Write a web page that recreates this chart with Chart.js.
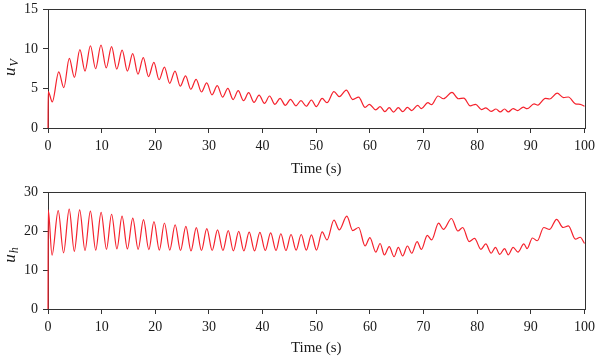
<!DOCTYPE html>
<html>
<head>
<meta charset="utf-8">
<script src="https://cdn.jsdelivr.net/npm/chart.js@4/dist/chart.umd.min.js"></script>
<style>
  html, body { margin: 0; padding: 0; background: #fff; }
  #wrap { position: relative; width: 600px; height: 357px; overflow: hidden; }
  #c1 { position: absolute; left: 0; top: -4px; }
  #c2 { position: absolute; left: 0; top: 170px; }
</style>
</head>
<body>
<div id="wrap">
  <canvas id="c1" width="600" height="182"></canvas>
  <canvas id="c2" width="600" height="187"></canvas>
</div>
<script>
// ---------- data ----------
const xTicks = [0, 10, 20, 30, 40, 50, 60, 70, 80, 90, 100];
const yTicksV = [0, 5, 10, 15];
const yTicksH = [0, 10, 20, 30];
const xTitle = 'Time (s)';

// u_V : time (s) and value
const timeV = [0, 0.05, 0.8, 2.0, 2.95, 3.97, 4.92, 5.94, 6.9, 7.91, 8.87, 9.88, 10.85, 11.85, 12.82, 13.82, 14.8, 15.79, 16.77, 17.76, 18.74, 19.73, 20.71, 21.7, 22.68, 23.67, 24.65, 25.64, 26.62, 27.61, 28.6, 29.58, 30.57, 31.55, 32.54, 33.52, 34.5, 35.45, 36.45, 37.4, 38.4, 39.35, 40.35, 41.3, 42.3, 43.25, 44.25, 45.2, 46.2, 47.15, 48.15, 49.1, 50.0,
  51.1, 52.0, 53.3, 54.3, 55.6, 56.8, 57.9, 59.1, 59.9, 61.1, 61.9, 62.8, 63.6, 64.4, 65.3, 66.1, 67.0, 67.8, 68.9, 69.6, 70.8, 71.5, 72.7, 73.7, 75.3, 76.5, 77.5, 78.7, 79.7, 80.8, 81.6, 82.6, 83.5, 84.3, 85.1, 85.8, 86.7, 87.5, 88.6, 89.3, 90.6, 91.3, 92.7, 93.5, 94.9, 96.1, 97.0, 98.3, 99.2, 100];
const uV = [0, 4.6, 3.3, 7.1, 5.1, 8.8, 6.4, 9.9, 7.2, 10.4, 7.5, 10.5, 7.6, 10.3, 7.45, 9.85, 7.2, 9.4, 6.8, 8.9, 6.5, 8.3, 6.1, 7.7, 5.65, 7.2, 5.3, 6.6, 4.9, 6.15, 4.55, 5.7, 4.2, 5.35, 3.9, 5.0, 3.6, 4.72, 3.45, 4.47, 3.24, 4.17, 3.12, 4.05, 2.99, 3.75, 2.86, 3.63, 2.8, 3.45, 2.75, 3.54, 2.7,
  3.75, 3.2, 4.6, 3.96, 4.8, 3.6, 3.9, 2.6, 3.0, 2.3, 2.7, 2.06, 2.57, 2.02, 2.57, 2.06, 2.6, 2.2, 2.87, 2.44, 3.2, 2.95, 4.05, 3.7, 4.5, 3.7, 3.78, 2.8, 3.0, 2.33, 2.55, 2.1, 2.4, 2.03, 2.4, 2.03, 2.45, 2.2, 2.65, 2.44, 3.05, 2.9, 3.75, 3.67, 4.4, 3.85, 3.92, 3.05, 3.0, 2.75];

// u_h : time (s) and value
const timeH = [0, 0.05, 0.75, 1.9, 2.9, 3.95, 4.9, 5.9, 6.9, 7.9, 8.9, 9.9, 10.9, 11.85, 12.85, 13.8, 14.8, 15.8, 16.8, 17.8, 18.8, 19.75, 20.75, 21.7, 22.7, 23.7, 24.7, 25.7, 26.65, 27.65, 28.6, 29.6, 30.6, 31.6, 32.6, 33.6, 34.55, 35.55, 36.5, 37.5, 38.5, 39.5, 40.5, 41.5, 42.5, 43.4, 44.35, 45.3, 46.25, 47.2, 48.15, 49.1, 50.05,
  51.1, 52.0, 53.3, 54.3, 55.7, 56.8, 57.9, 59.1, 60.0, 61.1, 61.9, 62.7, 63.6, 64.5, 65.3, 66.1, 67.0, 67.8, 68.8, 69.6, 70.7, 71.5, 72.8, 73.7, 75.2, 76.4, 77.3, 78.5, 79.5, 80.7, 81.6, 82.6, 83.4, 84.2, 85.1, 85.8, 86.7, 87.6, 88.7, 89.3, 90.3, 91.2, 92.4, 93.5, 94.8, 96.0, 97.0, 98.3, 99.2, 100];
const uH = [0, 25.4, 13.8, 25.2, 14.4, 25.6, 14.8, 25.4, 15.0, 25.1, 15.1, 24.8, 15.3, 24.3, 15.4, 23.8, 15.4, 23.3, 15.3, 22.9, 15.2, 22.4, 15.1, 22.05, 15.1, 21.6, 15.0, 21.2, 14.9, 20.85, 15.0, 20.6, 15.0, 20.3, 15.0, 20.1, 14.9, 19.9, 14.9, 19.7, 14.9, 19.65, 15.0, 19.5, 15.0, 19.3, 15.0, 19.1, 15.1, 19.1, 15.1, 19.0, 15.1,
  19.8, 17.7, 22.8, 20.3, 23.8, 20.1, 20.9, 16.15, 18.3, 14.6, 16.8, 13.85, 16.0, 13.4, 15.8, 13.6, 16.15, 14.3, 17.3, 15.3, 18.9, 17.7, 22.0, 20.4, 23.2, 20.0, 20.9, 17.3, 18.1, 15.3, 16.7, 14.3, 15.8, 14.0, 15.5, 13.9, 15.8, 14.6, 16.7, 15.5, 18.2, 17.5, 20.9, 20.4, 23.0, 20.9, 21.3, 17.9, 18.4, 16.8];

// ---------- styling ----------
const SERIF = '"Liberation Serif", "DejaVu Serif", serif';
const AXIS = '#333333';
const TEXT = '#1a1a1a';
const LINE = '#f5222d';

const frame = {
  id: 'frame',
  beforeDatasetsDraw(chart) {
    const a = chart.chartArea, ctx = chart.ctx;
    ctx.save();
    ctx.strokeStyle = AXIS;
    ctx.lineWidth = 1;
    ctx.strokeRect(Math.round(a.left) + 0.5, Math.round(a.top) + 0.5,
                   Math.round(a.right) - Math.round(a.left), Math.round(a.bottom) - Math.round(a.top));
    ctx.restore();
  },
  afterDraw(chart) {
    // rotated y title: italic u with italic subscript
    const o = chart.options.plugins.ytitle, ctx = chart.ctx;
    ctx.save();
    ctx.translate(o.x, o.y);
    ctx.rotate(-Math.PI / 2);
    ctx.fillStyle = TEXT;
    ctx.textBaseline = 'alphabetic';
    ctx.textAlign = 'left';
    const fMain = 'italic 17px ' + SERIF, fSub = 'italic 12px ' + SERIF;
    ctx.font = fMain; const w1 = ctx.measureText(o.main).width;
    ctx.font = fSub; const w2 = ctx.measureText(o.sub).width;
    const x0 = -(w1 + w2 + 1) / 2;
    ctx.font = fMain; ctx.fillText(o.main, x0, 0);
    ctx.font = fSub; ctx.fillText(o.sub, x0 + w1 + 1, 2.5);
    ctx.restore();
  }
};

function makeChart(id, times, vals, yTicks, ytitle, pad, xH) {
  const pts = times.map((t, i) => ({ x: t, y: vals[i] }));
  return new Chart(document.getElementById(id), {
    type: 'line',
    data: { datasets: [{ data: pts, borderColor: LINE, borderWidth: 1.2, pointRadius: 0,
      cubicInterpolationMode: 'monotone', fill: false, clip: 2 }] },
    options: {
      responsive: false, animation: false, devicePixelRatio: 1,
      layout: { padding: { top: pad.top, right: 12, left: 0, bottom: 0 } },
      plugins: { legend: { display: false }, tooltip: { enabled: false }, ytitle: ytitle },
      scales: {
        x: {
          type: 'linear', min: xTicks[0], max: xTicks[xTicks.length - 1],
          afterBuildTicks: s => { s.ticks = xTicks.map(v => ({ value: v })); },
          afterFit: s => { s.height = xH; },
          grid: { drawOnChartArea: false, drawTicks: true, tickLength: 5, color: AXIS },
          border: { display: true, color: AXIS, width: 1 },
          ticks: { color: TEXT, font: { family: SERIF, size: 14 }, padding: 5, maxRotation: 0 },
          title: { display: true, text: xTitle, color: TEXT, font: { family: SERIF, size: 15 }, padding: { top: 2, bottom: 0 } }
        },
        y: {
          min: yTicks[0], max: yTicks[yTicks.length - 1],
          afterBuildTicks: s => { s.ticks = yTicks.map(v => ({ value: v })); },
          afterFit: s => { s.width = 48; },
          grid: { drawOnChartArea: false, drawTicks: true, tickLength: 5, color: AXIS },
          border: { display: true, color: AXIS, width: 1 },
          ticks: { color: TEXT, font: { family: SERIF, size: 14 }, padding: 5 }
        }
      }
    },
    plugins: [frame]
  });
}

makeChart('c1', timeV, uV, yTicksV, { main: 'u', sub: 'V', x: 15, y: 71.5 }, { top: 5 }, 50);
makeChart('c2', timeH, uH, yTicksH, { main: 'u', sub: 'h', x: 15, y: 85 }, { top: 22 }, 48);
</script>
</body>
</html>
